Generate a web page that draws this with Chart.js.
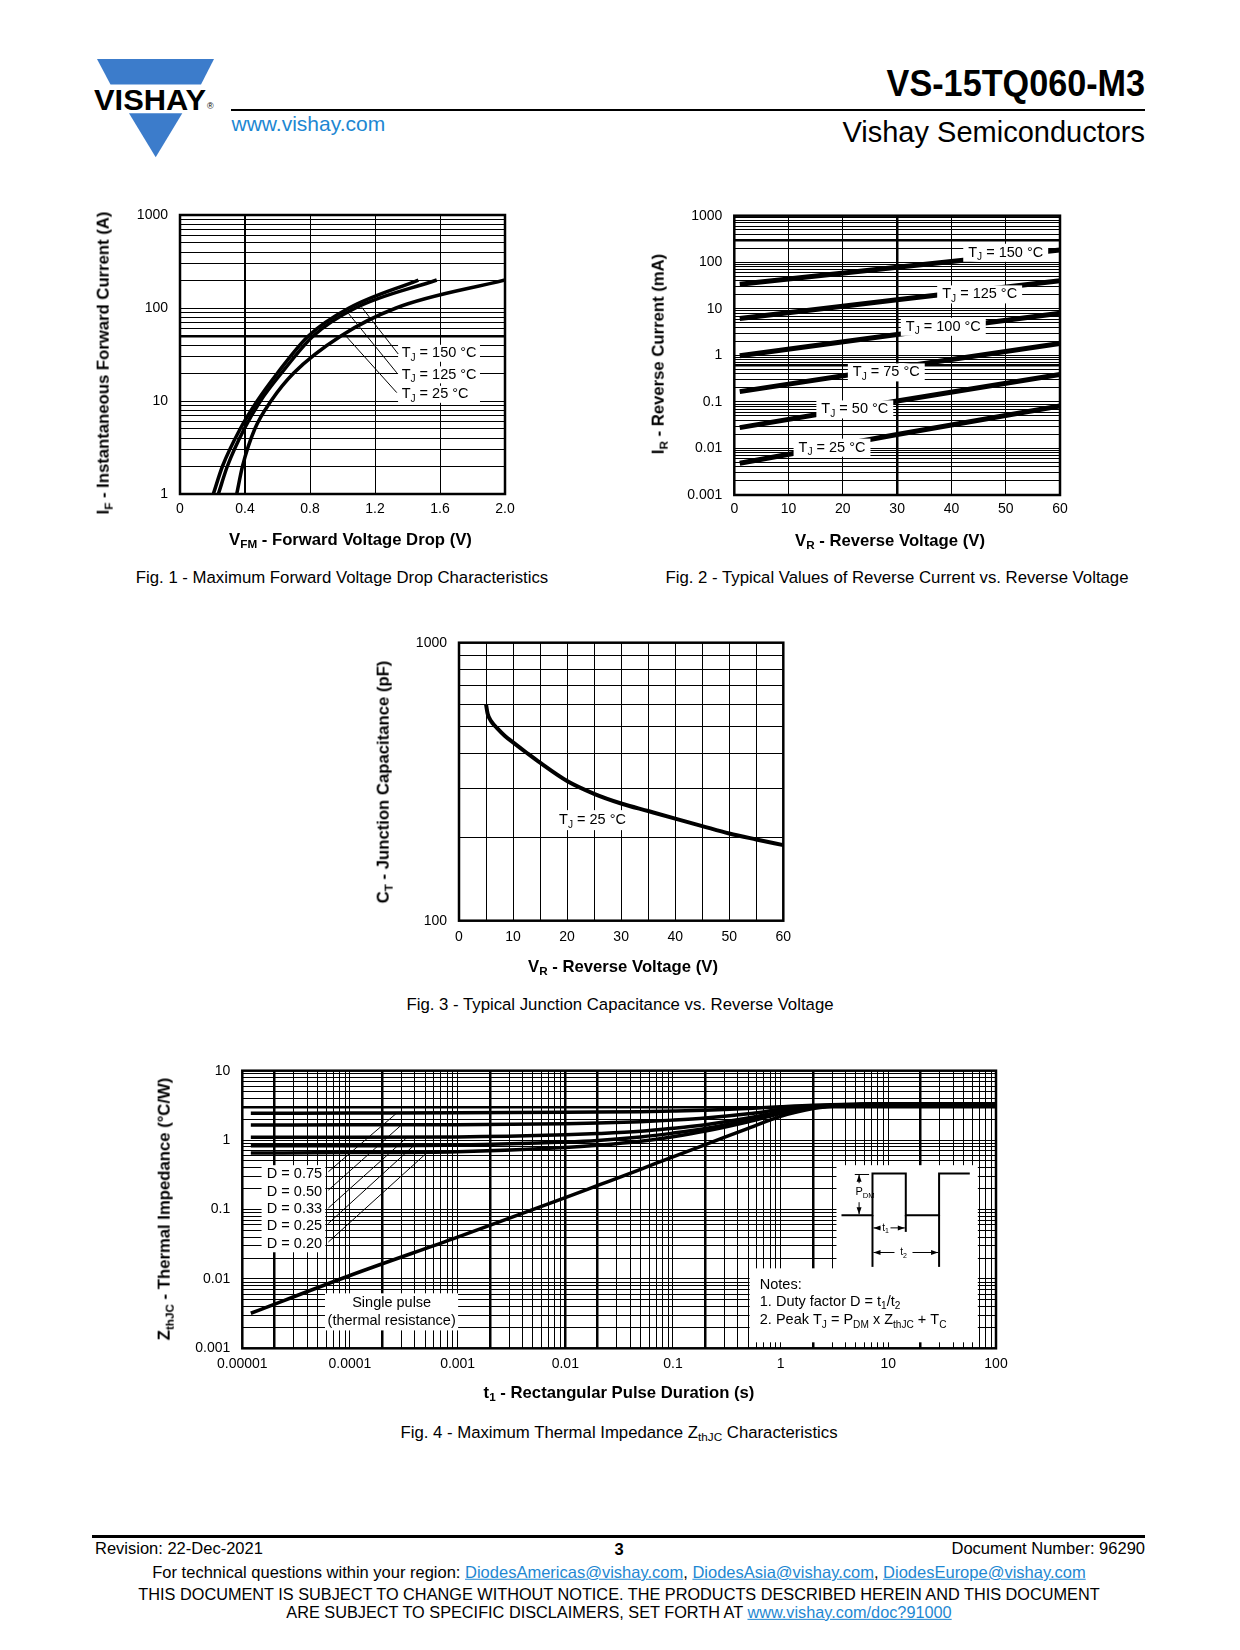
<!DOCTYPE html>
<html>
<head>
<meta charset="utf-8">
<script src="https://cdn.jsdelivr.net/npm/chart.js@4.4.1/dist/chart.umd.min.js"></script>
<style>
body { margin: 0; background: #fff; }
#page { position: relative; width: 1240px; height: 1650px; overflow: hidden; font-family: 'Liberation Sans', Arial, sans-serif; color: #000; }
.t { position: absolute; white-space: nowrap; line-height: 1; }
.ct { transform: translate(-50%, -50%); }
.yt { transform: translate(-50%, -50%) rotate(-90deg); }
.ttl { font-weight: bold; font-size: 16.7px; }
.cap { font-size: 16.75px; }
.ft { font-size: 16.5px; }
sub { font-size: 70%; vertical-align: -0.3em; line-height: 0; }
canvas { position: absolute; }
a { color: #1d87d2; text-decoration: underline; }
</style>
</head>
<body>
<div id="page">
	<svg style="position:absolute;left:0;top:0" width="260" height="170">
		<polygon points="97,59 214,59 201,84.5 110.5,84.5" fill="#3c7ccb"/>
		<polygon points="129,113.3 182.3,113.3 155.7,157.3" fill="#3c7ccb"/>
		<text x="94" y="110" font-family="Liberation Sans, Arial, sans-serif" font-weight="bold" font-size="30" textLength="112" lengthAdjust="spacingAndGlyphs">VISHAY</text>
		<text x="207" y="109" font-family="Liberation Sans, Arial, sans-serif" font-size="9">®</text>
	</svg>
	<div class="t" style="right:95px;top:84px;font-size:36px;font-weight:bold;transform:translateY(-50%) scaleX(0.95);transform-origin:right center;">VS-15TQ060-M3</div>
	<div style="position:absolute;left:231px;top:108.5px;width:914px;height:2px;background:#000;"></div>
	<div class="t" style="left:231.5px;top:123px;font-size:21px;color:#1d87d2;transform:translateY(-50%);">www.vishay.com</div>
	<div class="t" style="right:95px;top:131.5px;font-size:29px;transform:translateY(-50%);">Vishay Semiconductors</div>

	<canvas id="fig1" width="420" height="340" style="left:110px;top:190px;"></canvas>
	<canvas id="fig2" width="440" height="340" style="left:640px;top:190px;"></canvas>
	<canvas id="fig3" width="425" height="340" style="left:380px;top:617px;"></canvas>
	<canvas id="fig4" width="850" height="340" style="left:170px;top:1045px;"></canvas>

	<div class="t ttl yt" style="left:104px;top:363px;">I<sub>F</sub> - Instantaneous Forward Current (A)</div>
	<div class="t ttl ct" style="left:350.5px;top:540px;">V<sub>FM</sub> - Forward Voltage Drop (V)</div>
	<div class="t cap ct" style="left:342px;top:578px;">Fig. 1 - Maximum Forward Voltage Drop Characteristics</div>

	<div class="t ttl yt" style="left:658.5px;top:354px;">I<sub>R</sub> - Reverse Current (mA)</div>
	<div class="t ttl ct" style="left:890px;top:541px;">V<sub>R</sub> - Reverse Voltage (V)</div>
	<div class="t cap ct" style="left:897px;top:578px;">Fig. 2 - Typical Values of Reverse Current vs. Reverse Voltage</div>

	<div class="t ttl yt" style="left:383.5px;top:781.5px;">C<sub>T</sub> - Junction Capacitance (pF)</div>
	<div class="t ttl ct" style="left:623px;top:967px;">V<sub>R</sub> - Reverse Voltage (V)</div>
	<div class="t cap ct" style="left:620px;top:1005px;">Fig. 3 - Typical Junction Capacitance vs. Reverse Voltage</div>

	<div class="t ttl yt" style="left:165px;top:1209px;">Z<sub>thJC</sub> - Thermal Impedance (°C/W)</div>
	<div class="t ttl ct" style="left:619px;top:1393px;">t<sub>1</sub> - Rectangular Pulse Duration (s)</div>
	<div class="t cap ct" style="left:619px;top:1433px;">Fig. 4 - Maximum Thermal Impedance Z<sub>thJC</sub> Characteristics</div>

	<div style="position:absolute;left:92px;top:1534.5px;width:1053px;height:3px;background:#000;"></div>
	<div class="t ft" style="left:95px;top:1548px;transform:translateY(-50%);">Revision: 22-Dec-2021</div>
	<div class="t ft ct" style="left:619px;top:1549px;font-weight:bold;">3</div>
	<div class="t ft" style="right:95px;top:1548px;transform:translateY(-50%);">Document Number: 96290</div>
	<div class="t ft ct" style="left:619px;top:1572px;">For technical questions within your region: <a>DiodesAmericas@vishay.com</a>, <a>DiodesAsia@vishay.com</a>, <a>DiodesEurope@vishay.com</a></div>
	<div class="t ft ct" style="left:619px;top:1594px;font-size:16.3px;">THIS DOCUMENT IS SUBJECT TO CHANGE WITHOUT NOTICE. THE PRODUCTS DESCRIBED HEREIN AND THIS DOCUMENT</div>
	<div class="t ft ct" style="left:619px;top:1612px;font-size:16.3px;">ARE SUBJECT TO SPECIFIC DISCLAIMERS, SET FORTH AT <a>www.vishay.com/doc?91000</a></div>
</div>

<script>
// Fig. 1 - forward voltage (V) at each current (A)
const fig1Current = [1, 2, 5, 10, 20, 50, 100, 200];
const fig1V150 = [0.205, 0.262, 0.37, 0.475, 0.60, 0.79, 1.04, 1.467];
const fig1V125 = [0.236, 0.292, 0.395, 0.495, 0.625, 0.82, 1.08, 1.58];
const fig1V25 = [0.349, 0.385, 0.46, 0.56, 0.70, 0.99, 1.33, 2.0];
const fig1XTicks = ['0', '0.4', '0.8', '1.2', '1.6', '2.0'];
const fig1YTicks = ['1', '10', '100', '1000'];

// Fig. 2 - reverse current (mA)
const fig2Vr = [1, 30, 60];
const fig2I150 = [33.5, 78, 183];
const fig2I125 = [6.2, 15.7, 40];
const fig2I100 = [0.98, 2.8, 8.0];
const fig2I75 = [0.166, 0.55, 1.81];
const fig2I50 = [0.028, 0.105, 0.39];
const fig2I25 = [0.0048, 0.02, 0.082];
const fig2XTicks = ['0', '10', '20', '30', '40', '50', '60'];
const fig2YTicks = ['0.001', '0.01', '0.1', '1', '10', '100', '1000'];

// Fig. 3 - junction capacitance (pF)
const fig3Vr = [5, 5.3, 6, 7, 8.5, 10, 12.5, 15, 20, 25, 30, 35, 40, 45, 50, 55, 60];
const fig3Ct = [600, 555, 520, 494, 462, 438, 402, 370, 318, 286, 264, 248, 233, 219, 206, 196, 187];
const fig3XTicks = ['0', '10', '20', '30', '40', '50', '60'];
const fig3YTicks = ['100', '1000'];

// Fig. 4 - thermal impedance (°C/W)
const fig4T = [1.2e-5, 1e-4, 1e-3, 0.01, 0.02, 0.05, 0.1, 0.2, 0.5, 1, 2, 5, 10, 100];
const fig4D075 = [2.43, 2.45, 2.47, 2.51, 2.53, 2.57, 2.62, 2.69, 2.85, 3.03, 3.19, 3.28, 3.3, 3.3];
const fig4D050 = [1.65, 1.66, 1.67, 1.72, 1.76, 1.84, 1.94, 2.08, 2.39, 2.75, 3.08, 3.26, 3.3, 3.3];
const fig4D033 = [1.10, 1.10, 1.11, 1.19, 1.24, 1.34, 1.48, 1.67, 2.08, 2.56, 3.0, 3.25, 3.3, 3.3];
const fig4D025 = [0.83, 0.83, 0.85, 0.94, 0.99, 1.11, 1.26, 1.47, 1.94, 2.48, 2.96, 3.24, 3.3, 3.3];
const fig4D020 = [0.65, 0.66, 0.68, 0.78, 0.84, 0.96, 1.12, 1.35, 1.84, 2.42, 2.94, 3.24, 3.3, 3.3];
const fig4Single = [0.0032, 0.0112, 0.04, 0.148, 0.222, 0.38, 0.575, 0.86, 1.48, 2.2, 2.85, 3.22, 3.3, 3.3];
const fig4XTicks = ['0.00001', '0.0001', '0.001', '0.01', '0.1', '1', '10', '100'];
const fig4YTicks = ['0.001', '0.01', '0.1', '1', '10'];

const FONT = "'Liberation Sans', Arial, sans-serif";
Chart.defaults.font.family = FONT;
Chart.defaults.color = '#000';

function pts(xs, ys) { return xs.map((x, i) => ({ x: x, y: ys[i] })); }

// grid values k*10^e between lo and hi
function logGridValues(lo, hi) {
	const out = [];
	for (let e = Math.round(Math.log10(lo)); e < Math.round(Math.log10(hi)); e++)
		for (let k = 1; k < 10; k++) out.push(Number((k * Math.pow(10, e)).toPrecision(6)));
	out.push(hi);
	return out;
}
function mant(v) { const e = Math.floor(Math.log10(v) + 1e-9); return Math.round(v / Math.pow(10, e) * 1000) / 1000; }
function logLabel(labels) {
	return v => {
		const m = labels.find(l => Math.abs(Math.log10(Number(l)) - Math.log10(v)) < 1e-6);
		return m === undefined ? '' : m;
	};
}
function near(a, b) { return Math.abs(a - b) < 1e-6; }

function P(chart, x, y) { return [chart.scales.x.getPixelForValue(x), chart.scales.y.getPixelForValue(y)]; }

// text with subscripts: parts starting with '_' are subscripts
function richWidth(ctx, parts, size) {
	let w = 0;
	parts.forEach(p => {
		const sub = p[0] === '_';
		ctx.font = (sub ? size * 0.7 : size) + 'px ' + FONT;
		w += ctx.measureText(sub ? p.slice(1) : p).width;
	});
	return w;
}
function rich(ctx, parts, x, y, size, align) {
	const w = richWidth(ctx, parts, size);
	let cx = align === 'center' ? x - w / 2 : x;
	ctx.textAlign = 'left';
	ctx.textBaseline = 'middle';
	ctx.fillStyle = '#000';
	parts.forEach(p => {
		const sub = p[0] === '_';
		const s = sub ? p.slice(1) : p;
		ctx.font = (sub ? size * 0.7 : size) + 'px ' + FONT;
		ctx.fillText(s, cx, sub ? y + size * 0.32 : y);
		cx += ctx.measureText(s).width;
	});
	return w;
}
function white(ctx, x1, y1, x2, y2) {
	ctx.fillStyle = '#fff';
	ctx.fillRect(Math.min(x1, x2), Math.min(y1, y2), Math.abs(x2 - x1), Math.abs(y2 - y1));
}
function seg(ctx, a, b, w) {
	ctx.beginPath();
	ctx.lineWidth = w || 1;
	ctx.strokeStyle = '#000';
	ctx.moveTo(a[0], a[1]);
	ctx.lineTo(b[0], b[1]);
	ctx.stroke();
}

const framePlugin = {
	id: 'frame',
	afterDraw(chart) {
		const a = chart.chartArea, ctx = chart.ctx;
		ctx.save();
		ctx.lineWidth = 2.5;
		ctx.strokeStyle = '#000';
		ctx.strokeRect(a.left, a.top, a.right - a.left, a.bottom - a.top);
		ctx.restore();
	}
};

function lineSet(data, width) {
	return { data: data, borderColor: '#000', borderWidth: width, pointRadius: 0, fill: false,
		borderCapStyle: 'butt', cubicInterpolationMode: 'monotone' };
}

function axisOpts(extra) {
	const o = {
		ticks: Object.assign({ autoSkip: false, maxRotation: 0, minRotation: 0, font: { size: 14 }, color: '#000' }, extra.ticks || {}),
		grid: Object.assign({ color: '#000', lineWidth: 1, drawTicks: false }, extra.grid || {}),
		border: { display: false }
	};
	delete extra.ticks; delete extra.grid;
	return Object.assign(o, extra);
}

function makeChart(id, plot, datasets, xOpt, yOpt, annot) {
	const cv = document.getElementById(id);
	const left = parseFloat(cv.style.left), top = parseFloat(cv.style.top);
	const wy = plot.l - left, pt = plot.t - top;
	const pr = left + cv.width - plot.r, hx = top + cv.height - plot.b;
	xOpt.afterFit = s => { s.height = hx; };
	yOpt.afterFit = s => { s.width = wy; };
	return new Chart(cv, {
		type: 'line',
		data: { datasets: datasets },
		options: {
			responsive: false, animation: false, devicePixelRatio: 1,
			layout: { padding: { top: pt, right: pr, left: 0, bottom: 0 } },
			plugins: { legend: { display: false }, tooltip: { enabled: false } },
			scales: { x: xOpt, y: yOpt }
		},
		plugins: [framePlugin, { id: id + 'annot', afterDatasetsDraw: annot }]
	});
}

// ---------- Fig. 1 ----------
makeChart('fig1', { l: 180, t: 215, r: 505, b: 494 },
	[lineSet(pts(fig1V150, fig1Current), 3.5), lineSet(pts(fig1V125, fig1Current), 3.5), lineSet(pts(fig1V25, fig1Current), 3.5)],
	axisOpts({ type: 'linear', min: 0, max: 2,
		ticks: { stepSize: 0.4, padding: 7, callback: (v, i) => fig1XTicks[i] },
		grid: { lineWidth: c => (c.tick && near(c.tick.value, 0.4)) ? 2 : 1 } }),
	axisOpts({ type: 'logarithmic', min: 1, max: 1000,
		afterBuildTicks: s => { s.ticks = logGridValues(1, 1000).map(v => ({ value: v })); },
		ticks: { padding: 12, callback: logLabel(fig1YTicks) },
		grid: { lineWidth: c => (c.tick && near(c.tick.value, 50)) ? 2.5 : 1 } }),
	function (chart) {
		const ctx = chart.ctx;
		ctx.save();
		const labels = [[['T', '_J', ' = 150 °C'], 32.6], [['T', '_J', ' = 125 °C'], 19.1], [['T', '_J', ' = 25 °C'], 11.8]];
		labels.forEach(l => {
			const a = P(chart, 1.342, l[1]), b = P(chart, 1.846, l[1]);
			white(ctx, a[0], a[1] - 8.5, b[0], a[1] + 8.5);
			const t = P(chart, 1.364, l[1]);
			rich(ctx, l[0], t[0], t[1], 14.5, 'left');
		});
		seg(ctx, P(chart, 1.343, 32), P(chart, 1.118, 102));
		seg(ctx, P(chart, 1.334, 20.1), P(chart, 1.036, 87.7));
		seg(ctx, P(chart, 1.334, 12.3), P(chart, 1.015, 51.3));
		ctx.restore();
	});

// ---------- Fig. 2 ----------
makeChart('fig2', { l: 734.3, t: 215.7, r: 1060, b: 495 },
	[fig2I150, fig2I125, fig2I100, fig2I75, fig2I50, fig2I25].map(s => Object.assign(lineSet(pts(fig2Vr, s), 5), { cubicInterpolationMode: 'default', tension: 0 })),
	axisOpts({ type: 'linear', min: 0, max: 60,
		ticks: { stepSize: 10, padding: 6, callback: (v, i) => fig2XTicks[i] },
		grid: { lineWidth: c => (c.tick && near(c.tick.value, 30)) ? 2.5 : 1 } }),
	axisOpts({ type: 'logarithmic', min: 0.001, max: 1000,
		afterBuildTicks: s => { s.ticks = logGridValues(0.001, 1000).map(v => ({ value: v })); },
		ticks: { padding: 12, callback: logLabel(fig2YTicks) },
		grid: { lineWidth: c => (c.tick && (near(c.tick.value, 300) || near(c.tick.value, 0.6))) ? 2.5 : 1 } }),
	function (chart) {
		const ctx = chart.ctx;
		ctx.save();
		[['150', 50, 160], ['125', 45.2, 20.4], ['100', 38.5, 4.1], ['75', 28, 0.43], ['50', 22.2, 0.069], ['25', 18, 0.0104]].forEach(l => {
			const parts = ['T', '_J', ' = ' + l[0] + ' °C'];
			const c = P(chart, l[1], l[2]);
			const w = richWidth(ctx, parts, 14.5);
			white(ctx, c[0] - w / 2 - 5, c[1] - 9, c[0] + w / 2 + 5, c[1] + 9);
			rich(ctx, parts, c[0], c[1], 14.5, 'center');
		});
		ctx.restore();
	});

// ---------- Fig. 3 ----------
makeChart('fig3', { l: 459, t: 642.7, r: 783.3, b: 920.7 },
	[lineSet(pts(fig3Vr, fig3Ct), 4)],
	axisOpts({ type: 'linear', min: 0, max: 60,
		ticks: { stepSize: 5, padding: 8, callback: (v, i) => (i % 2 === 0 ? fig3XTicks[i / 2] : '') } }),
	axisOpts({ type: 'logarithmic', min: 100, max: 1000,
		afterBuildTicks: s => { s.ticks = logGridValues(100, 1000).map(v => ({ value: v })); },
		ticks: { padding: 12, callback: logLabel(fig3YTicks) } }),
	function (chart) {
		const ctx = chart.ctx;
		ctx.save();
		const parts = ['T', '_J', ' = 25 °C'];
		const c = P(chart, 24.7, 230);
		const w = richWidth(ctx, parts, 14.5);
		white(ctx, c[0] - w / 2 - 4, c[1] - 10, c[0] + w / 2 + 4, c[1] + 10);
		rich(ctx, parts, c[0], c[1], 14.5, 'center');
		ctx.restore();
	});

// ---------- Fig. 4 ----------
makeChart('fig4', { l: 242.3, t: 1070.7, r: 996, b: 1348.3 },
	[fig4D075, fig4D050, fig4D033, fig4D025, fig4D020, fig4Single].map(s => lineSet(pts(fig4T, s), 3.5)),
	axisOpts({ type: 'logarithmic', min: 1e-5, max: 100,
		afterBuildTicks: s => { s.ticks = logGridValues(1e-5, 100).map(v => ({ value: v })); },
		ticks: { padding: 7, callback: logLabel(fig4XTicks) },
		grid: { lineWidth: c => (c.tick && (mant(c.tick.value) === 2 || near(c.tick.value, 0.01))) ? 2.5 : 1 } }),
	axisOpts({ type: 'logarithmic', min: 0.001, max: 10,
		afterBuildTicks: s => { s.ticks = logGridValues(0.001, 10).map(v => ({ value: v })); },
		ticks: { padding: 12, callback: logLabel(fig4YTicks) },
		grid: { lineWidth: c => (c.tick && near(c.tick.value, 3)) ? 2.5 : 1 } }),
	function (chart) {
		const ctx = chart.ctx;
		ctx.save();
		// duty factor labels
		let a = P(chart, 1.51e-5, 0.435), b = P(chart, 5.9e-5, 0.0242);
		white(ctx, a[0], a[1], b[0], b[1]);
		[['0.75', 0.33], ['0.50', 0.18], ['0.33', 0.101], ['0.25', 0.057], ['0.20', 0.0316]].forEach(l => {
			const t = P(chart, 1.69e-5, l[1]);
			rich(ctx, ['D = ' + l[0]], t[0], t[1], 14.5, 'left');
		});
		[[0.35, 2.7e-4, 2.43], [0.19, 3.0e-4, 1.65], [0.105, 3.4e-4, 1.10], [0.063, 3.9e-4, 0.83], [0.034, 5.2e-4, 0.66]].forEach(l => {
			seg(ctx, P(chart, 6.3e-5, l[0]), P(chart, l[1], l[2]));
		});
		// single pulse label
		a = P(chart, 5.86e-5, 0.0062); b = P(chart, 1.01e-3, 0.00181);
		white(ctx, a[0], a[1], b[0], b[1]);
		let t = P(chart, 2.44e-4, 0.00445);
		rich(ctx, ['Single pulse'], t[0], t[1], 14.5, 'center');
		t = P(chart, 2.44e-4, 0.00247);
		rich(ctx, ['(thermal resistance)'], t[0], t[1], 14.5, 'center');
		// notes box
		a = P(chart, 0.515, 0.0142); b = P(chart, 67.8, 0.00122);
		white(ctx, a[0], a[1], b[0], b[1]);
		a = P(chart, 3.3, 0.435); b = P(chart, 67.8, 0.0142);
		white(ctx, a[0], a[1], b[0], b[1] + 1);
		t = P(chart, 0.64, 0.0081);
		rich(ctx, ['Notes:'], t[0], t[1], 14.5, 'left');
		t = P(chart, 0.64, 0.00465);
		rich(ctx, ['1. Duty factor D = t', '_1', '/t', '_2'], t[0], t[1], 14.5, 'left');
		t = P(chart, 0.64, 0.00253);
		rich(ctx, ['2. Peak T', '_J', ' = P', '_DM', ' x Z', '_thJC', ' + T', '_C'], t[0], t[1], 14.5, 'left');
		// pulse sketch, anchored at the top left of the inset
		const o = P(chart, 3.3, 0.435);
		const q = (dx, dy) => [o[0] + dx, o[1] + dy];
		ctx.lineJoin = 'miter';
		ctx.beginPath();
		ctx.lineWidth = 2;
		ctx.strokeStyle = '#000';
		[[5, 50], [36, 50], [36, 8.3], [69.3, 8.3], [69.3, 50], [102.6, 50], [102.6, 8.3], [133.3, 8.3]].forEach((p, i) => {
			const r = q(p[0], p[1]);
			if (i === 0) ctx.moveTo(r[0], r[1]); else ctx.lineTo(r[0], r[1]);
		});
		ctx.stroke();
		seg(ctx, q(36, 50), q(36, 101.7), 2);
		seg(ctx, q(102.6, 50), q(102.6, 101.7), 2);
		seg(ctx, q(69.3, 50), q(69.3, 66.7), 2);
		seg(ctx, q(18.3, 9.3), q(32.6, 9.3), 1);
		const arrow = (p, dir) => {
			ctx.beginPath();
			ctx.fillStyle = '#000';
			if (dir === 'l' || dir === 'r') {
				const s = dir === 'l' ? 1 : -1;
				ctx.moveTo(p[0], p[1]); ctx.lineTo(p[0] + 7 * s, p[1] - 2.5); ctx.lineTo(p[0] + 7 * s, p[1] + 2.5);
			} else {
				const s = dir === 'u' ? 1 : -1;
				ctx.moveTo(p[0], p[1]); ctx.lineTo(p[0] - 2.5, p[1] + 7 * s); ctx.lineTo(p[0] + 2.5, p[1] + 7 * s);
			}
			ctx.closePath();
			ctx.fill();
		};
		// P_DM arrow
		seg(ctx, q(22.6, 9.5), q(22.6, 18), 1);
		arrow(q(22.6, 9.5), 'u');
		seg(ctx, q(22.6, 37), q(22.6, 49), 1);
		arrow(q(22.6, 49), 'd');
		rich(ctx, ['P', '_DM'], o[0] + 19, o[1] + 27, 11, 'left');
		// t1 and t2 arrows
		seg(ctx, q(37, 62.7), q(44, 62.7), 1); arrow(q(37, 62.7), 'l');
		seg(ctx, q(54, 62.7), q(68.3, 62.7), 1); arrow(q(68.3, 62.7), 'r');
		rich(ctx, ['t', '_1'], o[0] + 49, o[1] + 62.7, 10, 'center');
		seg(ctx, q(37, 87.3), q(58, 87.3), 1); arrow(q(37, 87.3), 'l');
		seg(ctx, q(76, 87.3), q(101.6, 87.3), 1); arrow(q(101.6, 87.3), 'r');
		rich(ctx, ['t', '_2'], o[0] + 67, o[1] + 87.3, 10, 'center');
		ctx.restore();
	});
</script>
</body>
</html>
